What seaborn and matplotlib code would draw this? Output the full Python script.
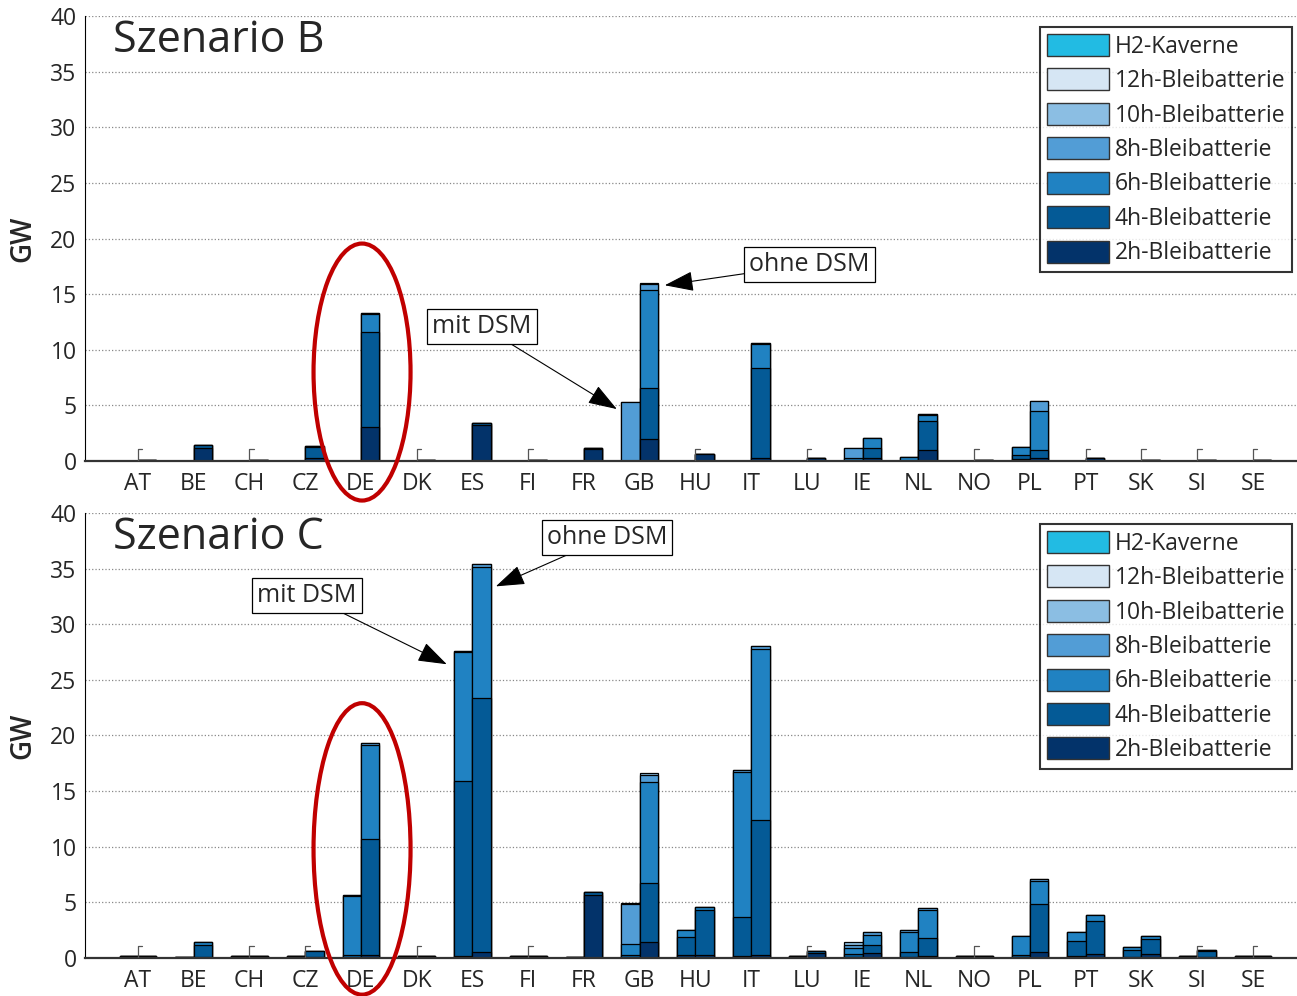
import numpy as np
import pandas as pd
import seaborn as sns
import matplotlib.pyplot as plt
from matplotlib.patches import Patch, Ellipse

sns.set_style("white")
plt.rcParams["font.family"] = ["Open Sans", "DejaVu Sans"]

countries = ["AT", "BE", "CH", "CZ", "DE", "DK", "ES", "FI", "FR", "GB", "HU",
             "IT", "LU", "IE", "NL", "NO", "PL", "PT", "SK", "SI", "SE"]

layers = ["2h-Bleibatterie", "4h-Bleibatterie", "6h-Bleibatterie", "8h-Bleibatterie",
          "10h-Bleibatterie", "12h-Bleibatterie", "H2-Kaverne"]
colors = ["#03336a", "#045a96", "#2082c2", "#529dd6", "#8bbee3", "#d6e6f4", "#22bbe3"]

# Szenario B - mit DSM (linke Balken)
b_mit_2h = [0, 0, 0, 0, 0, 0, 0, 0, 0, 0, 0, 0, 0, 0, 0, 0, 0.15, 0, 0, 0, 0]
b_mit_4h = [0, 0, 0, 0, 0, 0, 0, 0, 0, 0, 0, 0, 0, 0.1, 0, 0, 0.4, 0, 0, 0, 0]
b_mit_6h = [0, 0, 0, 0, 0, 0, 0, 0, 0, 0, 0, 0, 0, 0.15, 0.4, 0, 0.7, 0, 0, 0, 0]
b_mit_8h = [0, 0, 0, 0, 0, 0, 0, 0, 0, 5.3, 0, 0, 0, 0.9, 0, 0, 0, 0, 0, 0, 0]
b_mit_10h = [0] * 21

# Szenario B - ohne DSM (rechte Balken)
b_ohne_2h = [0.1, 1.2, 0.1, 0.3, 3.1, 0.1, 3.2, 0.1, 1.05, 2.0, 0.65,
             0.25, 0.3, 0.3, 1.0, 0.1, 0.25, 0.3, 0.1, 0.1, 0.1]
b_ohne_4h = [0, 0.2, 0, 1.0, 8.5, 0, 0.25, 0, 0.1, 4.6, 0,
             8.15, 0, 0.85, 2.6, 0, 0.7, 0, 0, 0, 0]
b_ohne_6h = [0, 0.05, 0, 0.05, 1.6, 0, 0, 0, 0, 8.8, 0,
             2.15, 0, 0.9, 0.5, 0, 3.55, 0, 0, 0, 0]
b_ohne_8h = [0, 0, 0, 0, 0.1, 0, 0, 0, 0, 0.5, 0,
             0.05, 0, 0, 0.15, 0, 0.9, 0, 0, 0, 0]
b_ohne_10h = [0, 0, 0, 0, 0, 0, 0, 0, 0, 0.1, 0,
              0, 0, 0, 0, 0, 0, 0, 0, 0, 0]

# Szenario C - mit DSM
c_mit_2h = [0.15, 0.1, 0.15, 0.15, 0, 0.15, 0.2, 0.15, 0.1, 0, 0.25,
            0.2, 0.15, 0.1, 0.1, 0.15, 0.1, 0.15, 0.05, 0.2, 0.15]
c_mit_4h = [0, 0, 0, 0, 0.3, 0, 15.7, 0, 0, 0.25, 1.6,
            3.5, 0, 0.25, 0.4, 0, 0.2, 1.4, 0.65, 0, 0]
c_mit_6h = [0, 0, 0, 0, 5.25, 0, 11.6, 0, 0, 1.0, 0.7,
            13.0, 0, 0.5, 1.8, 0, 1.65, 0.8, 0.3, 0, 0]
c_mit_8h = [0, 0, 0, 0, 0.1, 0, 0.1, 0, 0, 3.6, 0,
            0.2, 0, 0.35, 0.2, 0, 0, 0, 0, 0, 0]
c_mit_10h = [0, 0, 0, 0, 0, 0, 0, 0, 0, 0.1, 0,
             0, 0, 0.2, 0, 0, 0, 0, 0, 0, 0]

# Szenario C - ohne DSM
c_ohne_2h = [0.15, 0.05, 0.15, 0.1, 0.3, 0.15, 0.5, 0.2, 5.7, 1.4, 0.3,
             0.3, 0.45, 0.45, 0.2, 0.15, 0.57, 0.33, 0.33, 0.1, 0.15]
c_ohne_4h = [0, 1.1, 0, 0.5, 10.35, 0, 22.9, 0, 0.2, 5.3, 4.0,
             12.1, 0.15, 0.7, 1.6, 0, 4.26, 2.95, 1.35, 0.5, 0]
c_ohne_6h = [0, 0.25, 0, 0, 8.45, 0, 11.7, 0, 0, 9.1, 0.25,
             15.4, 0, 0.9, 2.5, 0, 2.1, 0.6, 0.27, 0.15, 0]
c_ohne_8h = [0, 0, 0, 0, 0.2, 0, 0.3, 0, 0, 0.6, 0,
             0.2, 0, 0.3, 0.2, 0, 0.15, 0, 0, 0, 0]
c_ohne_10h = [0, 0, 0, 0, 0, 0, 0, 0, 0, 0.2, 0,
              0, 0, 0, 0, 0, 0, 0, 0, 0, 0]

# kleine Marker bei fast leeren Laendern
marks_b = ["AT", "CH", "DK", "FI", "HU", "LU", "NO", "PT", "SK", "SI", "SE"]
marks_c = ["AT", "CH", "CZ", "DK", "FI", "LU", "NO", "SI", "SE"]


def draw_panel(ax, mit, ohne, marks, title):
    cum_mit = np.cumsum(np.array(mit), axis=0)
    cum_ohne = np.cumsum(np.array(ohne), axis=0)
    # groesste Summe zuerst, dann darueber die kleineren Stufen
    for k in range(len(mit) - 1, -1, -1):
        df = pd.DataFrame({
            "Land": countries * 2,
            "Variante": ["mit DSM"] * len(countries) + ["ohne DSM"] * len(countries),
            "GW": np.concatenate([cum_mit[k], cum_ohne[k]]),
        })
        sns.barplot(data=df, x="Land", y="GW", hue="Variante", order=countries,
                    hue_order=["mit DSM", "ohne DSM"], palette=[colors[k], colors[k]],
                    saturation=1, width=0.66, errorbar=None, edgecolor="black",
                    linewidth=0.9, legend=False, ax=ax, zorder=2)

    for c in marks:
        i = countries.index(c)
        ax.plot([i, i, i + 0.08], [0, 1.1, 1.1], color="#555555", lw=0.9, zorder=3)

    ax.set_xlim(-0.95, 20.79)
    ax.set_ylim(0, 40)
    ax.set_yticks(range(0, 41, 5))
    ax.set_xlabel("")
    ax.set_ylabel("GW", fontsize=20, fontweight="semibold")
    ax.yaxis.set_label_coords(-0.039, 0.5)
    ax.tick_params(axis="y", direction="in", length=5, labelsize=16.5, pad=6)
    ax.tick_params(axis="x", length=0, labelsize=16.5, pad=8)
    ax.yaxis.grid(True, linestyle=":", color="#888888", lw=0.9)
    ax.set_axisbelow(True)
    for s in ["top", "right"]:
        ax.spines[s].set_visible(False)
    ax.spines["left"].set_color("black")
    ax.spines["bottom"].set_color("#333333")
    ax.spines["bottom"].set_linewidth(1.6)
    ax.text(0.023, 0.995, title, transform=ax.transAxes, fontsize=31,
            va="top", ha="left")

    handles = [Patch(facecolor=colors[k], edgecolor="#333333", label=layers[k])
               for k in range(len(layers) - 1, -1, -1)]
    leg = ax.legend(handles=handles, loc="upper left", bbox_to_anchor=(0.788, 0.975),
                    fontsize=16.5, frameon=True, fancybox=False, edgecolor="black",
                    handlelength=2.7, handleheight=1.1, labelspacing=0.42,
                    handletextpad=0.25, borderpad=0.3, borderaxespad=0)
    leg.get_frame().set_linewidth(1.5)
    leg.set_zorder(5)


def box_note(ax, text, xy, xytext):
    ax.annotate(text, xy=xy, xytext=xytext, fontsize=18, ha="center", va="center",
                bbox=dict(boxstyle="square,pad=0.2", fc="white", ec="black", lw=0.9),
                arrowprops=dict(arrowstyle="-|>,head_length=1.3,head_width=0.45",
                                color="black", lw=0.8, mutation_scale=14,
                                shrinkA=0, shrinkB=0),
                zorder=6)


fig = plt.figure(figsize=(12.97, 9.96), dpi=100)
ax1 = fig.add_axes([0.0655, 0.5371, 0.9345, 0.4468])
ax2 = fig.add_axes([0.0655, 0.0382, 0.9345, 0.4468])

draw_panel(ax1, [b_mit_2h, b_mit_4h, b_mit_6h, b_mit_8h, b_mit_10h],
           [b_ohne_2h, b_ohne_4h, b_ohne_6h, b_ohne_8h, b_ohne_10h],
           marks_b, "Szenario B")
draw_panel(ax2, [c_mit_2h, c_mit_4h, c_mit_6h, c_mit_8h, c_mit_10h],
           [c_ohne_2h, c_ohne_4h, c_ohne_6h, c_ohne_8h, c_ohne_10h],
           marks_c, "Szenario C")

# rote Markierung um DE
de = countries.index("DE")
ax1.add_patch(Ellipse((de + 0.02, 8.0), 1.74, 23.1, fill=False, ec="#c00000",
                      lw=3, clip_on=False, zorder=7))
ax2.add_patch(Ellipse((de + 0.02, 9.8), 1.74, 26.2, fill=False, ec="#c00000",
                      lw=3, clip_on=False, zorder=7))

box_note(ax1, "mit DSM", (8.59, 4.67), (6.17, 12.13))
box_note(ax1, "ohne DSM", (9.45, 15.8), (12.05, 17.7))
box_note(ax2, "mit DSM", (5.54, 26.4), (3.03, 32.6))
box_note(ax2, "ohne DSM", (6.42, 33.4), (8.41, 37.8))

fig.savefig("out.png", dpi=100)
